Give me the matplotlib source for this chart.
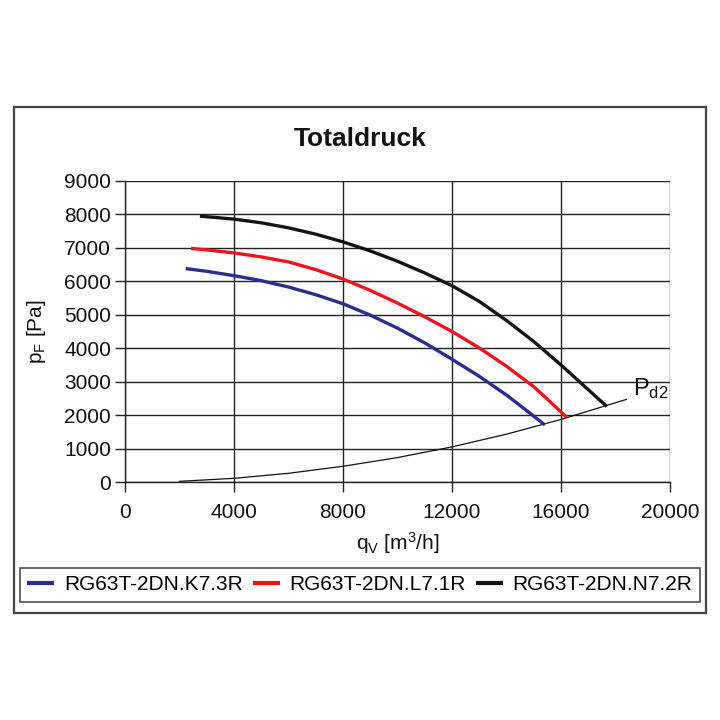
import matplotlib
matplotlib.use("Agg")
import matplotlib.pyplot as plt
from matplotlib.patches import Rectangle

plt.rcParams['font.family'] = ['Liberation Sans', 'DejaVu Sans']
plt.rcParams['mathtext.default'] = 'regular'

q_k73 = [2230, 3000, 4000, 5000, 6000, 7000, 8000, 9000, 10000, 11000, 12000, 13000, 14000, 14700, 15410]
p_k73 = [6380, 6300, 6170, 6020, 5830, 5600, 5330, 4990, 4600, 4160, 3670, 3160, 2600, 2160, 1705]

q_l71 = [2420, 3000, 4000, 5000, 6000, 7000, 8000, 9000, 10000, 11000, 12000, 13000, 14000, 15000, 15600, 16210]
p_l71 = [6985, 6940, 6850, 6730, 6580, 6350, 6070, 5730, 5350, 4940, 4500, 4010, 3460, 2850, 2400, 1935]

q_n72 = [2750, 4000, 5000, 6000, 7000, 8000, 9000, 10000, 11000, 12000, 13000, 14000, 15000, 16000, 17000, 17680]
p_n72 = [7950, 7860, 7750, 7600, 7410, 7180, 6910, 6600, 6250, 5870, 5400, 4830, 4200, 3500, 2760, 2260]

q_pd2 = [2000, 4000, 6000, 8000, 10000, 12000, 14000, 16000, 18400]
p_pd2 = [20, 110, 260, 470, 730, 1050, 1430, 1870, 2470]

labels = ['RG63T-2DN.K7.3R', 'RG63T-2DN.L7.1R', 'RG63T-2DN.N7.2R']
colors = ['#2b2d8e', '#f2141c', '#141414']

fig = plt.figure(figsize=(7.2, 7.2), dpi=100)
fig.patches.append(Rectangle((14/720, 1-613/720), 692/720, 506/720,
                             transform=fig.transFigure, fill=False,
                             edgecolor='#444444', linewidth=1.6))

ax = fig.add_axes([125/720, 1-482/720, 545/720, 301/720])

ax.plot(q_pd2, p_pd2, color='#111111', linewidth=0.9)
for q, p, lab, c in zip([q_k73, q_l71, q_n72], [p_k73, p_l71, p_n72], labels, colors):
    ax.plot(q, p, color=c, linewidth=2.4, label=lab, solid_capstyle='butt',
            solid_joinstyle='round')

ax.text(18650, 2420, r'P$_{d2}$', fontsize=17, va='bottom', ha='left', color='#111111')

ax.set_xlim(0, 20000)
ax.set_ylim(0, 9000)
ax.set_xticks(range(0, 20001, 4000))
ax.set_yticks(range(0, 9001, 1000))
ax.grid(True, color='#222222', linewidth=1.0)
ax.set_axisbelow(True)
for s in ['top', 'right']:
    ax.spines[s].set_visible(False)
for s in ['left', 'bottom']:
    ax.spines[s].set_color('#222222')
    ax.spines[s].set_linewidth(1.0)
ax.tick_params(axis='both', labelsize=15, colors='#222222', labelcolor='#111111',
               length=7, width=1.0)
ax.tick_params(axis='x', pad=8)
ax.tick_params(axis='y', pad=3)

ax.set_xlabel(r'q$_V$ [m$^3$/h]', fontsize=15, labelpad=6, color='#111111')
ax.set_ylabel(r'p$_F$ [Pa]', fontsize=15, labelpad=12, color='#111111')

fig.text(0.5, 1-139/720, 'Totaldruck', fontsize=19, fontweight='bold',
         ha='center', va='center', color='#111111')

leg = fig.legend(loc='center', bbox_to_anchor=(360/720, 1-585/720), ncol=3,
                 fontsize=15, frameon=True, fancybox=False, handlelength=1.3,
                 handletextpad=0.45, columnspacing=0.5, borderpad=0.35,
                 borderaxespad=0)
leg.get_frame().set_edgecolor('#222222')
leg.get_frame().set_linewidth(1.2)
for line in leg.get_lines():
    line.set_linewidth(3)

fig.savefig('out.png', dpi=100)
